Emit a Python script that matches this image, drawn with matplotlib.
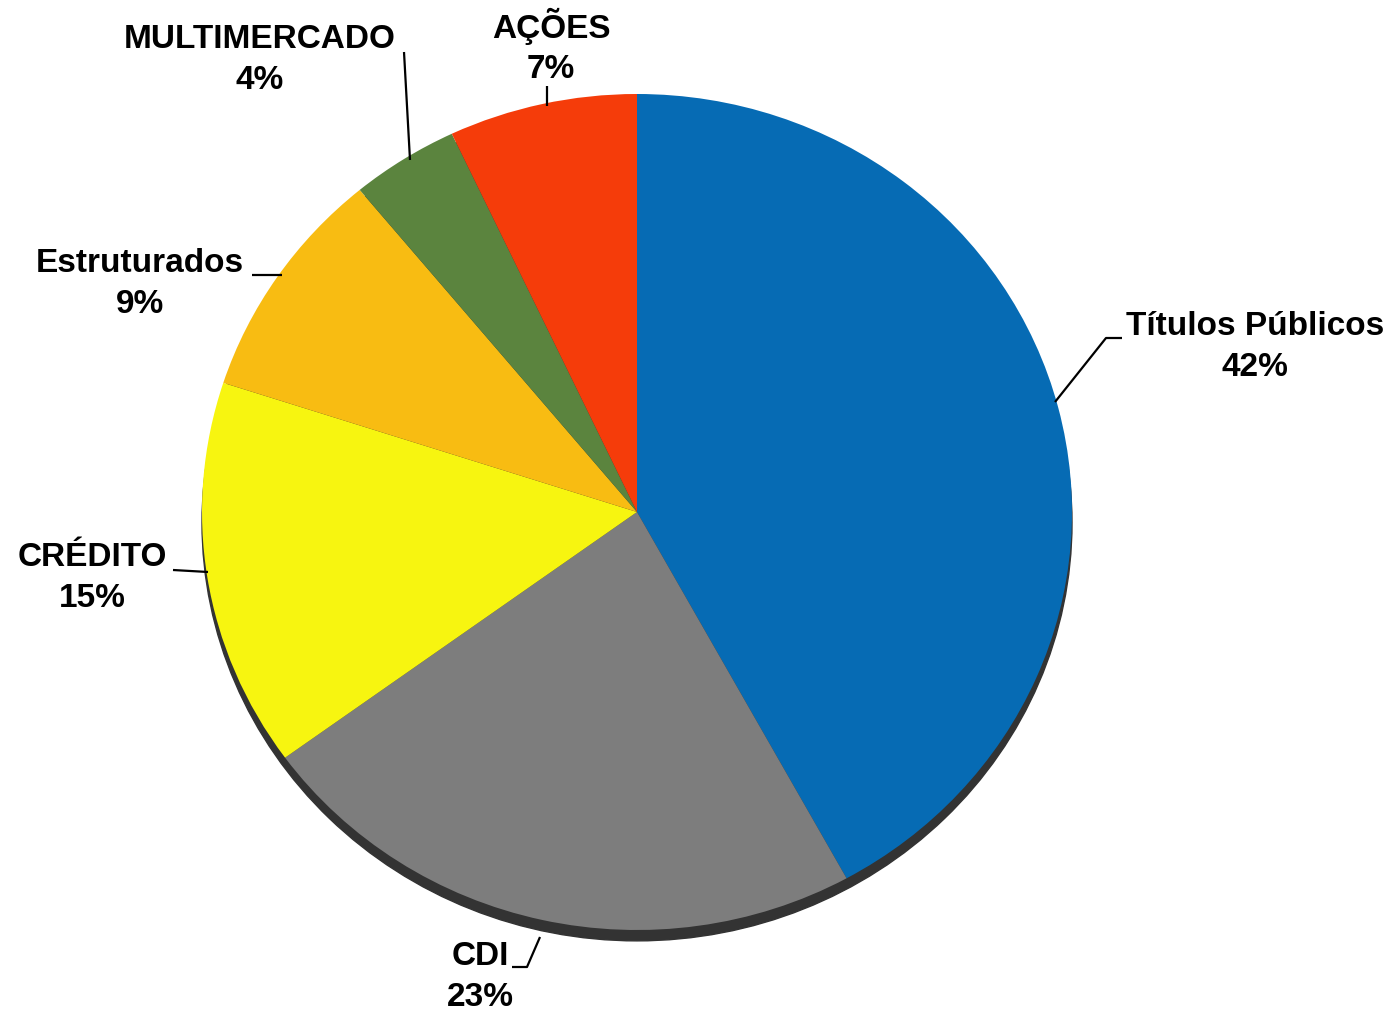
import matplotlib
matplotlib.use("Agg")
import matplotlib.pyplot as plt
from matplotlib.patches import Ellipse

categorias = ["Títulos Públicos", "CDI", "CRÉDITO", "Estruturados", "MULTIMERCADO", "AÇÕES"]
valores = [42, 23, 15, 9, 4, 7]
cores = ["#066bb4", "#7d7d7d", "#f7f510", "#f8bc12", "#5b843e", "#f53c0a"]

plt.rcParams["font.family"] = ["Liberation Sans", "DejaVu Sans"]

W, H = 1400, 1013
fig = plt.figure(figsize=(W / 100, H / 100), dpi=100)

# pie axes placed in pixel terms (slightly flattened, like the original)
cx, cy, rx, ry = 637, 512, 435, 418
ax = fig.add_axes([(cx - rx) / W, (H - (cy + ry)) / H, 2 * rx / W, 2 * ry / H])
sombra = Ellipse((0, -0.026), 2.0, 2.0, color="#333333", zorder=0)
sombra.set_clip_on(False)
ax.add_patch(sombra)
wedges, _ = ax.pie(valores, colors=cores, startangle=90, counterclock=False,
                   radius=1.0, wedgeprops=dict(linewidth=0, zorder=1))
for w in wedges:
    w.set_clip_on(False)
ax.set_aspect("auto")
ax.set_xlim(-1, 1)
ax.set_ylim(-1, 1)
ax.axis("off")

# overlay for labels in pixel coordinates
ov = fig.add_axes([0, 0, 1, 1])
ov.set_xlim(0, W)
ov.set_ylim(H, 0)
ov.axis("off")

pos_rotulos = {
    "Títulos Públicos": (1255, 347),
    "CDI": (480, 977),
    "CRÉDITO": (92, 578),
    "Estruturados": (140, 284),
    "MULTIMERCADO": (260, 60),
    "AÇÕES": (551, 46),
}
linhas = {
    "Títulos Públicos": [(1122, 338), (1106, 338), (1055, 402)],
    "CDI": [(512, 967), (527, 967), (540, 937)],
    "CRÉDITO": [(173, 570), (208, 572)],
    "Estruturados": [(252, 275), (282, 275)],
    "MULTIMERCADO": [(404, 52), (410, 160)],
    "AÇÕES": [(547, 86), (547, 106)],
}

for cat, v in zip(categorias, valores):
    x, y = pos_rotulos[cat]
    ov.text(x, y, f"{cat}\n{v}%", ha="center", va="center", fontsize=24,
            fontweight="bold", linespacing=1.38, color="black")
    xs, ys = zip(*linhas[cat])
    ov.plot(xs, ys, color="black", linewidth=1.6, solid_capstyle="butt")

fig.savefig("out.png", dpi=100, facecolor="white")
